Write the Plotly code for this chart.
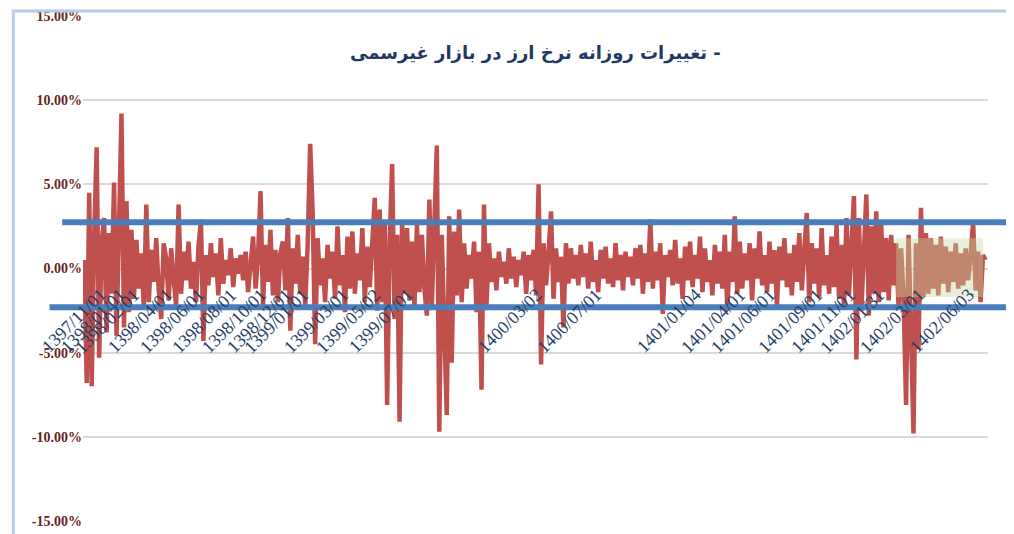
import plotly.graph_objects as go

# daily % change
changes = [
    0.5, -6.8, 4.5, -7.0, 1.8, 7.2, -5.3, 1.5, 3.0, -3.8, 2.1, -1.5, 5.1, -4.0, 2.4, 9.2, -3.5, 4.0, -2.6, 2.3,
    -1.8, 1.7, -1.2, 0.9, -2.4, 3.8, -2.0, 1.1, -0.8, 1.8, -1.3, -3.0, 1.5, 0.6, -1.9, 1.2, -0.6, -2.2, 3.8, -1.5,
    1.0, -0.7, 1.6, -1.2, 0.4, -2.0, 1.3, 2.9, -4.3, 0.8, -1.0, 1.5, -0.5, 0.9, -1.6, 1.8, -0.9, 0.5, -0.4, 1.2,
    -1.1, 0.6, -0.3, 0.8, -0.7, 1.0, -1.4, 0.5, 1.9, -1.2, 0.7, 4.6, -2.2, 1.4, -0.8, 2.3, -1.6, 1.1, -2.0, 0.9,
    1.6, -1.3, 3.0, -3.7, 1.2, -0.9, 2.0, -1.5, 0.7, -2.3, 1.5, 7.4, 3.3, -4.5, 1.8, -1.0, 0.6, -2.0, 1.4, -0.6,
    1.0, -1.8, 2.5, -1.0, 0.8, -2.6, 1.9, -1.2, 2.2, -1.5, 0.9, -0.7, 2.4, -2.0, 1.3, -1.1, 2.0, 4.2, -2.5, 3.5,
    -2.0, 2.8, -8.1, 1.5, 6.2, -3.0, 2.0, -9.1, 2.8, -1.5, 2.4, -1.9, 1.6, -2.3, 2.6, -1.4, 2.0, -1.2, -2.8, 4.1,
    -2.2, 2.7, 7.3, -9.7, 2.0, -3.5, -8.7, 3.1, -5.6, 2.2, -1.6, 3.5, -2.0, 1.5, -1.2, 0.8, -0.6, 1.6, -2.6, 1.0,
    -7.2, 3.8, -2.2, 1.5, -0.8, 0.6, -1.3, 1.0, -0.5, 0.4, -0.9, 1.2, -0.6, 0.7, -1.1, 0.5, -0.4, 1.0, -1.5, 0.8,
    -0.7, 1.1, -1.6, 5.0, -5.7, 1.5, -1.0, 0.9, 3.4, -1.8, 1.2, -0.8, 0.7, -3.5, 1.5, -0.9, 1.2, -0.6, 0.8, -1.0,
    1.4, -0.5, 0.9, -1.2, 1.6, -0.8, 0.5, -1.4, 1.1, -0.6, 1.3, -0.9, 0.6, -1.1, 1.5, -0.7, 0.8, -1.3, 1.0, -0.5,
    0.7, -1.0, 1.2, -0.6, 1.4, -1.5, 0.9, -0.8, 2.9, -1.2, 1.0, -0.7, 1.5, -2.7, 0.8, -0.5, 1.1, -1.0, 1.7, -0.9,
    0.6, -1.8, 1.3, -0.7, 1.6, -1.1, 0.8, -0.6, 1.9, -1.4, 1.2, -0.8, 0.5, -1.6, 1.4, -0.9, 1.0, -1.2, 2.0, -2.5,
    1.0, -0.8, 3.1, -1.5, 1.6, -1.2, 0.9, -0.7, 1.5, -1.9, 1.2, -0.6, 2.2, -1.0, 0.8, -1.4, 1.6, -0.9, 1.1, -2.2,
    1.3, -0.7, 1.8, -1.1, 0.9, -1.6, 1.4, -0.8, 2.1, -1.3, 1.0, 3.3, -2.0, 1.5, -0.9, 1.2, -1.7, 2.4, -1.0, 0.8,
    -1.5, 1.9, -1.1, 2.6, -1.8, 1.4, -2.3, 3.0, -1.6, 2.2, 4.3, -5.4, 3.0, -2.5, 1.8, 4.4, -2.8, 2.5, -1.5, 3.4,
    -2.0, 2.6, -1.4, 1.8, -1.9, 2.0, -1.0, 1.5, -2.4, 1.2, -1.8, -8.1, 2.0, -3.0, -9.8, 1.5, -4.8, 3.6, -1.7, 2.1,
    -1.5, 1.8, -1.2, 1.4, -1.6, 1.9, -0.9, 1.3, -1.4, 1.0, -0.8, 1.5, -1.2, 0.9, -1.0, 1.2, -0.7, 0.8, 2.8, -1.3,
    1.0, -2.0, 0.8, 0.5,
]
days = list(range(len(changes)))

tick_days = [11, 19, 25, 38, 51, 64, 76, 86, 93, 109, 122, 135, 187, 211, 251, 269, 281, 300, 313, 325, 341, 361]
tick_labels = ["1397/11/01", "1398/01/01", "1398/02/01", "1398/04/01", "1398/06/01", "1398/08/01",
               "1398/10/01", "1398/12/01", "1399/01/01", "1399/03/01", "1399/05/02", "1399/07/01",
               "1400/03/02", "1400/07/01", "1401/01/04", "1401/04/01", "1401/06/01", "1401/09/01",
               "1401/11/01", "1402/01/31", "1402/03/01", "1402/06/03"]

upper_band = 2.75
lower_band = -2.3

fig = go.Figure()
fig.add_trace(go.Scatter(x=days, y=changes, mode="lines",
                         line=dict(color="#c0504d", width=4.5), hoverinfo="skip"))

for d, lab in zip(tick_days, tick_labels):
    fig.add_annotation(x=d, y=-0.8, xref="x", yref="y", text=lab, showarrow=False,
                       textangle=-45, xanchor="right", yanchor="top",
                       font=dict(family="Liberation Serif", size=18, color="#1f3f66"))

# blue band lines and highlighted box
fig.add_shape(type="line", xref="paper", yref="y", x0=-0.023, x1=1.027, y0=upper_band, y1=upper_band,
              line=dict(color="#4a7ebb", width=6))
fig.add_shape(type="line", xref="paper", yref="y", x0=-0.037, x1=1.025, y0=lower_band, y1=lower_band,
              line=dict(color="#4a7ebb", width=6))
fig.add_shape(type="rect", xref="x", yref="y", x0=327, x1=362, y0=-1.7, y1=1.8,
              fillcolor="rgba(195,215,160,0.4)", line=dict(width=0), layer="above")
# outer frame
fig.add_shape(type="rect", xref="paper", yref="paper", x0=-0.077, x1=1.036, y0=-0.04, y1=1.01,
              line=dict(color="#b8cce4", width=3))

fig.add_annotation(x=0.5, y=12.8, xref="paper", yref="y", text="<b>تغییرات روزانه نرخ ارز در بازار غیرسمی -</b>",
                   showarrow=False, font=dict(family="DejaVu Sans", size=18, color="#1f3864"))

fig.update_layout(
    width=1014, height=534, margin=dict(l=75, r=34, t=8, b=21, autoexpand=False),
    plot_bgcolor="white", paper_bgcolor="white", showlegend=False,
    xaxis=dict(range=[-0.5, 364], showticklabels=False, showgrid=False, zeroline=False),
    yaxis=dict(range=[-15, 15], tickvals=[-15, -10, -5, 0, 5, 10, 15],
               ticktext=["<b>-15.00%</b>", "<b>-10.00%</b>", "<b>-5.00%</b>", "<b>0.00%</b>",
                         "<b>5.00%</b>", "<b>10.00%</b>", "<b>15.00%</b>"],
               gridcolor="#d9d9d9", gridwidth=2, zeroline=False,
               tickfont=dict(family="Liberation Serif", size=14, color="#6b1f1f")),
)

fig.write_html("out.html")
